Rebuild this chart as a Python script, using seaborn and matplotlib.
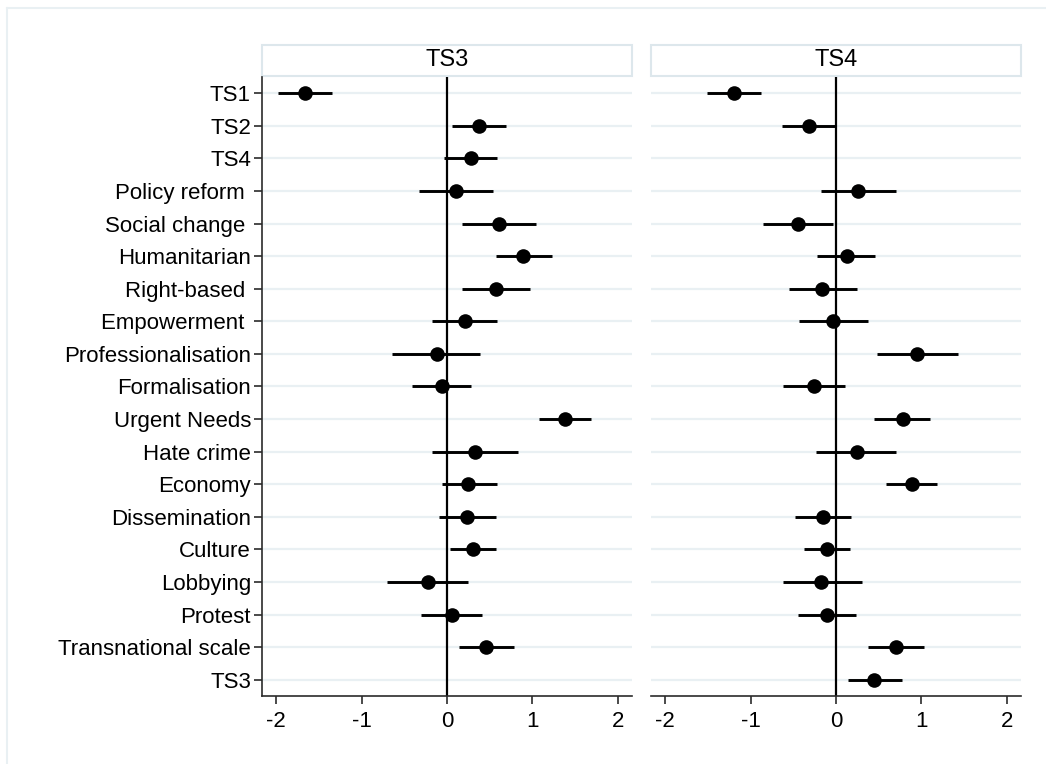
import seaborn as sns
import matplotlib.pyplot as plt
import pandas as pd
import numpy as np
from matplotlib.patches import Rectangle
from matplotlib.lines import Line2D

# ----------------------------
# Coefficients
# ----------------------------
labels = ["TS1", "TS2", "TS4", "Policy reform ", "Social change ", "Humanitarian",
          "Right-based ", "Empowerment ", "Professionalisation", "Formalisation",
          "Urgent Needs", "Hate crime", "Economy", "Dissemination", "Culture",
          "Lobbying", "Protest", "Transnational scale", "TS3"]

ts3_est = [-1.66, 0.37, 0.28, 0.11, 0.61, 0.89, 0.57, 0.21, -0.12, -0.06,
           1.38, 0.33, 0.25, 0.23, 0.30, -0.22, 0.06, 0.46, np.nan]
ts3_lo = [-1.98, 0.06, -0.03, -0.33, 0.17, 0.57, 0.18, -0.17, -0.64, -0.41,
          1.08, -0.17, -0.06, -0.09, 0.04, -0.70, -0.31, 0.14, np.nan]
ts3_hi = [-1.35, 0.69, 0.59, 0.54, 1.04, 1.23, 0.97, 0.58, 0.39, 0.28,
          1.69, 0.83, 0.58, 0.57, 0.57, 0.25, 0.41, 0.78, np.nan]

ts4_est = [-1.19, -0.32, np.nan, 0.26, -0.44, 0.13, -0.16, -0.03, 0.95, -0.26,
           0.78, 0.24, 0.89, -0.15, -0.10, -0.17, -0.10, 0.70, 0.45]
ts4_lo = [-1.51, -0.63, np.nan, -0.18, -0.86, -0.22, -0.55, -0.43, 0.48, -0.62,
          0.44, -0.23, 0.59, -0.48, -0.37, -0.62, -0.45, 0.37, 0.14]
ts4_hi = [-0.88, -0.01, np.nan, 0.70, -0.03, 0.46, 0.24, 0.38, 1.43, 0.10,
          1.10, 0.70, 1.18, 0.17, 0.16, 0.30, 0.23, 1.03, 0.77]

panels = ["TS3", "TS4"]
x_ticks = [-2, -1, 0, 1, 2]

df = pd.concat([
    pd.DataFrame({"panel": "TS3", "label": labels, "est": ts3_est, "lo": ts3_lo, "hi": ts3_hi}),
    pd.DataFrame({"panel": "TS4", "label": labels, "est": ts4_est, "lo": ts4_lo, "hi": ts4_hi}),
])

# ----------------------------
# Style
# ----------------------------
sns.set_style("white")
plt.rcParams["font.family"] = ["Liberation Sans", "DejaVu Sans"]
plt.rcParams["axes.unicode_minus"] = False
plt.rcParams["text.color"] = "black"
plt.rcParams["xtick.labelcolor"] = "black"
plt.rcParams["ytick.labelcolor"] = "black"

grid_col = "#e9f0f3"
strip_col = "#dde7ec"
axis_col = "#2b2b2b"

fig = plt.figure(figsize=(10.46, 7.64), dpi=100)
W, H = 1046, 764
ax_bottom = (H - 696) / H
ax_height = (696 - 77) / H
lefts = [262 / W, 651 / W]
width = 370 / W

for i, name in enumerate(panels):
    ax = fig.add_axes([lefts[i], ax_bottom, width, ax_height])
    sub = df[df["panel"] == name].reset_index(drop=True)

    # confidence intervals
    ax.hlines(y=np.arange(len(labels)), xmin=sub["lo"], xmax=sub["hi"],
              color="black", lw=2.1, zorder=3)
    # point estimates
    sns.stripplot(data=sub, x="est", y="label", order=labels, orient="h",
                  jitter=False, color="black", size=10.5, linewidth=0,
                  zorder=4, ax=ax)
    ax.axvline(0, color="black", lw=1.6, zorder=2)

    ax.set_xlim(-2.165, 2.165)
    ax.set_xticks(x_ticks)
    ax.set_xticklabels([str(t) for t in x_ticks])
    ax.set_xlabel("")
    ax.set_ylabel("")
    ax.grid(axis="y", color=grid_col, lw=1.6)
    ax.grid(axis="x", visible=False)
    ax.set_axisbelow(True)

    for side in ["top", "right"]:
        ax.spines[side].set_visible(False)
    for side in ["bottom", "left"]:
        ax.spines[side].set_color(axis_col)
        ax.spines[side].set_linewidth(1.2)
    ax.tick_params(axis="x", length=6, width=1.2, color=axis_col,
                   labelsize=16, pad=5, bottom=True)
    if i == 0:
        ax.tick_params(axis="y", length=6, width=1.2, color=axis_col,
                       labelsize=16, pad=2, left=True)
    else:
        ax.spines["left"].set_visible(False)
        ax.tick_params(axis="y", left=False, labelleft=False)

    # panel header strip
    ax.add_patch(Rectangle((0, 1 + 1 / 619), 1, 31 / 619, transform=ax.transAxes,
                           facecolor="white", edgecolor=strip_col, lw=1.5,
                           clip_on=False))
    ax.text(0.5, 1 + 16.5 / 619, name, transform=ax.transAxes, ha="center",
            va="center", fontsize=17, color="black")

# faint outer frame (top and left edges)
fig.add_artist(Line2D([7 / W, 1], [1 - 8 / H, 1 - 8 / H], transform=fig.transFigure,
                      color=grid_col, lw=1.5))
fig.add_artist(Line2D([7 / W, 7 / W], [0, 1 - 8 / H], transform=fig.transFigure,
                      color=grid_col, lw=1.5))

plt.savefig("out.png", dpi=100)
plt.close()
